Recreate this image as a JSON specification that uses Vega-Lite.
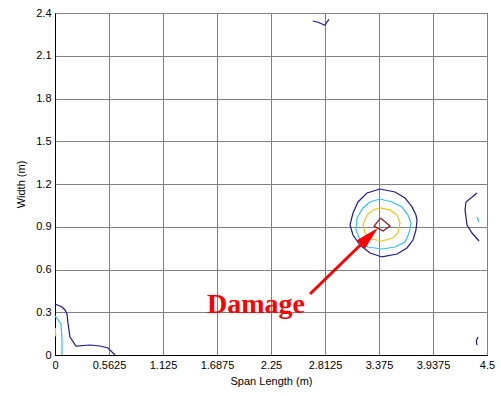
{
  "$schema": "https://vega.github.io/schema/vega-lite/v6.json",
  "width": 432,
  "height": 342,
  "autosize": "none",
  "padding": {"left": 55, "top": 13, "right": 14, "bottom": 41},
  "background": "white",
  "config": {
    "view": {"stroke": "black", "strokeWidth": 1},
    "font": "Liberation Sans",
    "axis": {
      "labelFont": "Liberation Sans",
      "titleFont": "Liberation Sans",
      "labelFontSize": 11,
      "titleFontSize": 11,
      "titleFontWeight": "normal",
      "labelColor": "black",
      "titleColor": "black",
      "domainColor": "black",
      "gridColor": "#808080",
      "gridOpacity": 1,
      "gridWidth": 1,
      "ticks": false
    }
  },
  "datasets": {
    "contours": [
      {"id": "ring1", "level": "L1", "i": 0, "x": 3.385, "y": 1.165},
      {"id": "ring1", "level": "L1", "i": 1, "x": 3.542, "y": 1.144},
      {"id": "ring1", "level": "L1", "i": 2, "x": 3.646, "y": 1.102},
      {"id": "ring1", "level": "L1", "i": 3, "x": 3.719, "y": 1.039},
      {"id": "ring1", "level": "L1", "i": 4, "x": 3.760, "y": 0.982},
      {"id": "ring1", "level": "L1", "i": 5, "x": 3.771, "y": 0.947},
      {"id": "ring1", "level": "L1", "i": 6, "x": 3.760, "y": 0.877},
      {"id": "ring1", "level": "L1", "i": 7, "x": 3.729, "y": 0.807},
      {"id": "ring1", "level": "L1", "i": 8, "x": 3.667, "y": 0.751},
      {"id": "ring1", "level": "L1", "i": 9, "x": 3.563, "y": 0.709},
      {"id": "ring1", "level": "L1", "i": 10, "x": 3.406, "y": 0.688},
      {"id": "ring1", "level": "L1", "i": 11, "x": 3.281, "y": 0.716},
      {"id": "ring1", "level": "L1", "i": 12, "x": 3.177, "y": 0.772},
      {"id": "ring1", "level": "L1", "i": 13, "x": 3.104, "y": 0.842},
      {"id": "ring1", "level": "L1", "i": 14, "x": 3.073, "y": 0.912},
      {"id": "ring1", "level": "L1", "i": 15, "x": 3.104, "y": 0.996},
      {"id": "ring1", "level": "L1", "i": 16, "x": 3.156, "y": 1.074},
      {"id": "ring1", "level": "L1", "i": 17, "x": 3.250, "y": 1.137},
      {"id": "ring1", "level": "L1", "i": 18, "x": 3.385, "y": 1.165},

      {"id": "ring2", "level": "L2", "i": 0, "x": 3.385, "y": 1.095},
      {"id": "ring2", "level": "L2", "i": 1, "x": 3.510, "y": 1.074},
      {"id": "ring2", "level": "L2", "i": 2, "x": 3.615, "y": 1.039},
      {"id": "ring2", "level": "L2", "i": 3, "x": 3.677, "y": 0.982},
      {"id": "ring2", "level": "L2", "i": 4, "x": 3.708, "y": 0.926},
      {"id": "ring2", "level": "L2", "i": 5, "x": 3.688, "y": 0.856},
      {"id": "ring2", "level": "L2", "i": 6, "x": 3.646, "y": 0.793},
      {"id": "ring2", "level": "L2", "i": 7, "x": 3.542, "y": 0.758},
      {"id": "ring2", "level": "L2", "i": 8, "x": 3.406, "y": 0.744},
      {"id": "ring2", "level": "L2", "i": 9, "x": 3.260, "y": 0.758},
      {"id": "ring2", "level": "L2", "i": 10, "x": 3.177, "y": 0.807},
      {"id": "ring2", "level": "L2", "i": 11, "x": 3.135, "y": 0.877},
      {"id": "ring2", "level": "L2", "i": 12, "x": 3.146, "y": 0.961},
      {"id": "ring2", "level": "L2", "i": 13, "x": 3.208, "y": 1.032},
      {"id": "ring2", "level": "L2", "i": 14, "x": 3.281, "y": 1.074},
      {"id": "ring2", "level": "L2", "i": 15, "x": 3.385, "y": 1.095},

      {"id": "ring3", "level": "L3", "i": 0, "x": 3.385, "y": 1.032},
      {"id": "ring3", "level": "L3", "i": 1, "x": 3.490, "y": 1.018},
      {"id": "ring3", "level": "L3", "i": 2, "x": 3.563, "y": 0.982},
      {"id": "ring3", "level": "L3", "i": 3, "x": 3.594, "y": 0.926},
      {"id": "ring3", "level": "L3", "i": 4, "x": 3.573, "y": 0.856},
      {"id": "ring3", "level": "L3", "i": 5, "x": 3.521, "y": 0.821},
      {"id": "ring3", "level": "L3", "i": 6, "x": 3.406, "y": 0.800},
      {"id": "ring3", "level": "L3", "i": 7, "x": 3.302, "y": 0.814},
      {"id": "ring3", "level": "L3", "i": 8, "x": 3.229, "y": 0.856},
      {"id": "ring3", "level": "L3", "i": 9, "x": 3.208, "y": 0.912},
      {"id": "ring3", "level": "L3", "i": 10, "x": 3.250, "y": 0.982},
      {"id": "ring3", "level": "L3", "i": 11, "x": 3.313, "y": 1.018},
      {"id": "ring3", "level": "L3", "i": 12, "x": 3.385, "y": 1.032},

      {"id": "ring4", "level": "L4", "i": 0, "x": 3.391, "y": 0.961},
      {"id": "ring4", "level": "L4", "i": 1, "x": 3.490, "y": 0.905},
      {"id": "ring4", "level": "L4", "i": 2, "x": 3.417, "y": 0.870},
      {"id": "ring4", "level": "L4", "i": 3, "x": 3.323, "y": 0.905},
      {"id": "ring4", "level": "L4", "i": 4, "x": 3.391, "y": 0.961},

      {"id": "edgeR", "level": "L1", "i": 0, "x": 4.396, "y": 1.137},
      {"id": "edgeR", "level": "L1", "i": 1, "x": 4.281, "y": 1.074},
      {"id": "edgeR", "level": "L1", "i": 2, "x": 4.271, "y": 1.018},
      {"id": "edgeR", "level": "L1", "i": 3, "x": 4.292, "y": 0.912},
      {"id": "edgeR", "level": "L1", "i": 4, "x": 4.344, "y": 0.856},
      {"id": "edgeR", "level": "L1", "i": 5, "x": 4.417, "y": 0.800},

      {"id": "edgeRc", "level": "L2", "i": 0, "x": 4.396, "y": 0.968},
      {"id": "edgeRc", "level": "L2", "i": 1, "x": 4.417, "y": 0.933},

      {"id": "cornerBL", "level": "L1", "i": 0, "x": 0.0, "y": 0.358},
      {"id": "cornerBL", "level": "L1", "i": 1, "x": 0.073, "y": 0.337},
      {"id": "cornerBL", "level": "L1", "i": 2, "x": 0.104, "y": 0.316},
      {"id": "cornerBL", "level": "L1", "i": 3, "x": 0.125, "y": 0.288},
      {"id": "cornerBL", "level": "L1", "i": 4, "x": 0.135, "y": 0.225},
      {"id": "cornerBL", "level": "L1", "i": 5, "x": 0.156, "y": 0.126},
      {"id": "cornerBL", "level": "L1", "i": 6, "x": 0.219, "y": 0.063},
      {"id": "cornerBL", "level": "L1", "i": 7, "x": 0.365, "y": 0.070},
      {"id": "cornerBL", "level": "L1", "i": 8, "x": 0.469, "y": 0.063},
      {"id": "cornerBL", "level": "L1", "i": 9, "x": 0.552, "y": 0.049},
      {"id": "cornerBL", "level": "L1", "i": 10, "x": 0.625, "y": 0.0},

      {"id": "cornerBLc", "level": "L2", "i": 0, "x": 0.0, "y": 0.274},
      {"id": "cornerBLc", "level": "L2", "i": 1, "x": 0.0625, "y": 0.218},
      {"id": "cornerBLc", "level": "L2", "i": 2, "x": 0.073, "y": 0.105},
      {"id": "cornerBLc", "level": "L2", "i": 3, "x": 0.073, "y": 0.0},

      {"id": "cornerBLy", "level": "L3", "i": 0, "x": 0.004, "y": 0.19},
      {"id": "cornerBLy", "level": "L3", "i": 1, "x": 0.008, "y": 0.13},

      {"id": "edgeT", "level": "L1", "i": 0, "x": 2.685, "y": 2.344},
      {"id": "edgeT", "level": "L1", "i": 1, "x": 2.740, "y": 2.335},
      {"id": "edgeT", "level": "L1", "i": 2, "x": 2.812, "y": 2.314},
      {"id": "edgeT", "level": "L1", "i": 3, "x": 2.830, "y": 2.335},
      {"id": "edgeT", "level": "L1", "i": 4, "x": 2.855, "y": 2.355},

      {"id": "edgeBR", "level": "L1", "i": 0, "x": 4.406, "y": 0.126},
      {"id": "edgeBR", "level": "L1", "i": 1, "x": 4.388, "y": 0.098},
      {"id": "edgeBR", "level": "L1", "i": 2, "x": 4.396, "y": 0.070}
    ],
    "arrow": [
      {"x": 2.656, "y": 0.428, "x2": 3.275, "y2": 0.833}
    ],
    "head": [
      {"x": 3.275, "y": 0.833}
    ],
    "note": [
      {"x": 2.094, "y": 0.295, "label": "Damage"}
    ]
  },
  "layer": [
    {
      "data": {"name": "contours"},
      "mark": {"type": "line", "strokeWidth": 1.2, "interpolate": "linear"},
      "encoding": {
        "x": {
          "field": "x", "type": "quantitative",
          "scale": {"domain": [0, 4.5], "nice": false, "zero": false},
          "axis": {
            "title": "Span Length (m)",
            "values": [0, 0.5625, 1.125, 1.6875, 2.25, 2.8125, 3.375, 3.9375, 4.5],
            "labelExpr": "format(datum.value, '.6~g')",
            "grid": true,
            "labelPadding": 4,
            "titlePadding": 5,
            "labelFlush": false
          }
        },
        "y": {
          "field": "y", "type": "quantitative",
          "scale": {"domain": [0, 2.4], "nice": false, "zero": false},
          "axis": {
            "title": "Width (m)",
            "values": [0, 0.3, 0.6, 0.9, 1.2, 1.5, 1.8, 2.1, 2.4],
            "labelExpr": "format(datum.value, '.6~g')",
            "grid": true,
            "labelPadding": 4,
            "titlePadding": 9,
            "labelFlush": false
          }
        },
        "color": {
          "field": "level", "type": "nominal",
          "scale": {"domain": ["L1", "L2", "L3", "L4"], "range": ["#1c1c98", "#2ec4ec", "#f2c21a", "#8a1c1c"]},
          "legend": null
        },
        "detail": {"field": "id"},
        "order": {"field": "i", "type": "quantitative"}
      }
    },
    {
      "data": {"name": "arrow"},
      "mark": {"type": "rule", "color": "#ff0000", "strokeWidth": 3},
      "encoding": {
        "x": {"field": "x", "type": "quantitative"},
        "y": {"field": "y", "type": "quantitative"},
        "x2": {"field": "x2"},
        "y2": {"field": "y2"}
      }
    },
    {
      "data": {"name": "head"},
      "mark": {
        "type": "point",
        "shape": "M0,-1L0.5,1L-0.5,1Z",
        "filled": true,
        "color": "#ff0000",
        "opacity": 1,
        "size": 560,
        "angle": 46
      },
      "encoding": {
        "x": {"field": "x", "type": "quantitative"},
        "y": {"field": "y", "type": "quantitative"}
      }
    },
    {
      "data": {"name": "note"},
      "mark": {
        "type": "text",
        "font": "Liberation Serif",
        "fontWeight": "bold",
        "fontSize": 28,
        "color": "#ff0000",
        "align": "center",
        "baseline": "alphabetic"
      },
      "encoding": {
        "x": {"field": "x", "type": "quantitative"},
        "y": {"field": "y", "type": "quantitative"},
        "text": {"field": "label"}
      }
    }
  ]
}
